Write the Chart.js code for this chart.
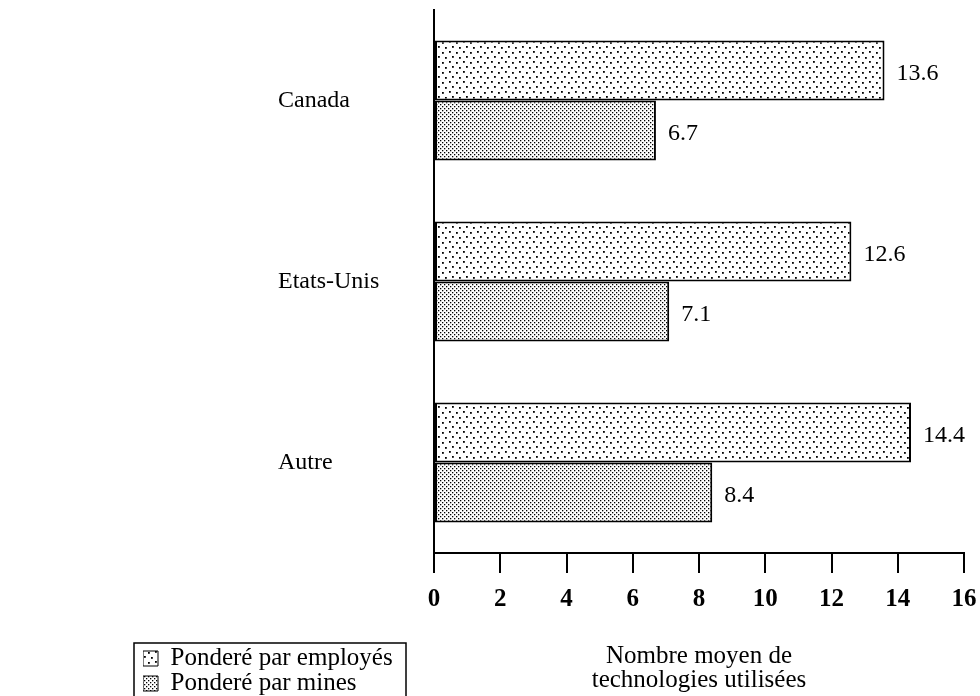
<!DOCTYPE html>
<html>
<head>
<meta charset="utf-8">
<title>Nombre moyen de technologies utilisées</title>
<script src="https://cdn.jsdelivr.net/npm/chart.js@4.4.1/dist/chart.umd.min.js"></script>
<style>
  html, body { margin: 0; padding: 0; background: #fff; }
  #chart { display: block; }
</style>
</head>
<body>
<canvas id="chart" width="980" height="696"></canvas>
<script>
// ── Data ─────────────────────────────────────
const categories          = ['Canada', 'Etats-Unis', 'Autre'];
const seriesNames         = ['Ponderé par employés', 'Ponderé par mines'];
const weightedByEmployees = [13.6, 12.6, 14.4];
const weightedByMines     = [6.7, 7.1, 8.4];
const xTickLabels         = [0, 2, 4, 6, 8, 10, 12, 14, 16];
const axisTitle           = ['Nombre moyen de', 'technologies utilisées'];

const SERIF = '"Liberation Serif", "DejaVu Serif", serif';

// ── Stipple fills (like the scanned halftones) ──
function makePattern(w, h, dots, size) {
  const c = document.createElement('canvas');
  c.width = w;
  c.height = h;
  const g = c.getContext('2d');
  g.fillStyle = '#fff';
  g.fillRect(0, 0, w, h);
  g.fillStyle = '#000';
  dots.forEach(([x, y]) => g.fillRect(x, y, size, size));
  return g.createPattern(c, 'repeat');
}

const sparseDots = makePattern(14, 10, [[1, 1], [8, 2], [4, 6], [11, 7]], 1.8);
const denseDots  = makePattern(4, 4, [[0, 0], [2, 2]], 1.3);

// ── Legend box: moved to the bottom left corner ──
const LEGEND_BOX = { x: 134, y: 643, w: 272 };

const legendPlacer = {
  id: 'legendPlacer',
  afterLayout(chart) {
    const lg = chart.legend;
    const w = lg.width, h = lg.height;
    lg.left = LEGEND_BOX.x + 9;
    lg.top = LEGEND_BOX.y + 3;
    lg.right = lg.left + w;
    lg.bottom = lg.top + h;
  },
  afterDraw(chart) {
    const ctx = chart.ctx;
    ctx.save();
    ctx.strokeStyle = '#000';
    ctx.lineWidth = 1.5;
    ctx.strokeRect(LEGEND_BOX.x, LEGEND_BOX.y, LEGEND_BOX.w, chart.height);
    ctx.restore();
  }
};

// ── Value printed at the end of each bar ─────
const valueLabels = {
  id: 'valueLabels',
  afterDatasetsDraw(chart) {
    const ctx = chart.ctx;
    ctx.save();
    ctx.font = '24px ' + SERIF;
    ctx.fillStyle = '#000';
    ctx.textAlign = 'left';
    ctx.textBaseline = 'middle';
    chart.data.datasets.forEach((ds, i) => {
      chart.getDatasetMeta(i).data.forEach((bar, j) => {
        ctx.fillText(ds.data[j].toFixed(1), bar.x + 12, bar.y + 3);
      });
    });
    ctx.restore();
  }
};

Chart.defaults.font.family = SERIF;
Chart.defaults.color = '#000';

new Chart(document.getElementById('chart'), {
  type: 'bar',
  data: {
    labels: categories,
    datasets: [
      {
        label: seriesNames[0],
        data: weightedByEmployees,
        backgroundColor: sparseDots,
        borderColor: '#000',
        borderWidth: 2,
        borderSkipped: false
      },
      {
        label: seriesNames[1],
        data: weightedByMines,
        backgroundColor: denseDots,
        borderColor: '#000',
        borderWidth: 2,
        borderSkipped: false
      }
    ]
  },
  options: {
    indexAxis: 'y',
    responsive: false,
    animation: false,
    events: [],
    layout: { padding: { left: 278, right: 16, top: 10, bottom: 0 } },
    datasets: {
      bar: { categoryPercentage: 0.663, barPercentage: 1 }
    },
    plugins: {
      tooltip: { enabled: false },
      legend: {
        position: 'chartArea',
        align: 'start',
        labels: {
          font: { size: 25, family: SERIF },
          color: '#000',
          boxWidth: 15,
          boxHeight: 15,
          padding: 0,
          generateLabels(chart) {
            const items = Chart.defaults.plugins.legend.labels.generateLabels(chart);
            items.forEach(it => { it.lineWidth = 1; });
            return items;
          }
        }
      }
    },
    scales: {
      x: {
        min: xTickLabels[0],
        max: xTickLabels[xTickLabels.length - 1],
        afterBuildTicks(scale) {
          scale.ticks = xTickLabels.map(v => ({ value: v }));
        },
        afterFit(scale) {
          scale.height = 143;
          scale.paddingLeft = 0;
          scale.paddingRight = 0;
        },
        grid: {
          drawOnChartArea: false,
          drawTicks: true,
          tickLength: 20,
          color: '#000',
          lineWidth: 2
        },
        border: { display: true, color: '#000', width: 2 },
        ticks: {
          font: { size: 25, weight: 'bold', family: SERIF },
          color: '#000',
          padding: 12,
          maxRotation: 0
        },
        title: {
          display: true,
          text: axisTitle,
          font: { size: 25, family: SERIF, lineHeight: 0.98 },
          color: '#000',
          padding: { top: 0, bottom: 3 }
        }
      },
      y: {
        grid: { display: false },
        border: { display: true, color: '#000', width: 2 },
        ticks: {
          font: { size: 24, family: SERIF },
          color: '#000',
          crossAlign: 'far'
        },
        afterFit(scale) {
          scale.width = 156;
          scale.paddingTop = 0;
          scale.paddingBottom = 0;
        }
      }
    }
  },
  plugins: [legendPlacer, valueLabels]
});
</script>
</body>
</html>
